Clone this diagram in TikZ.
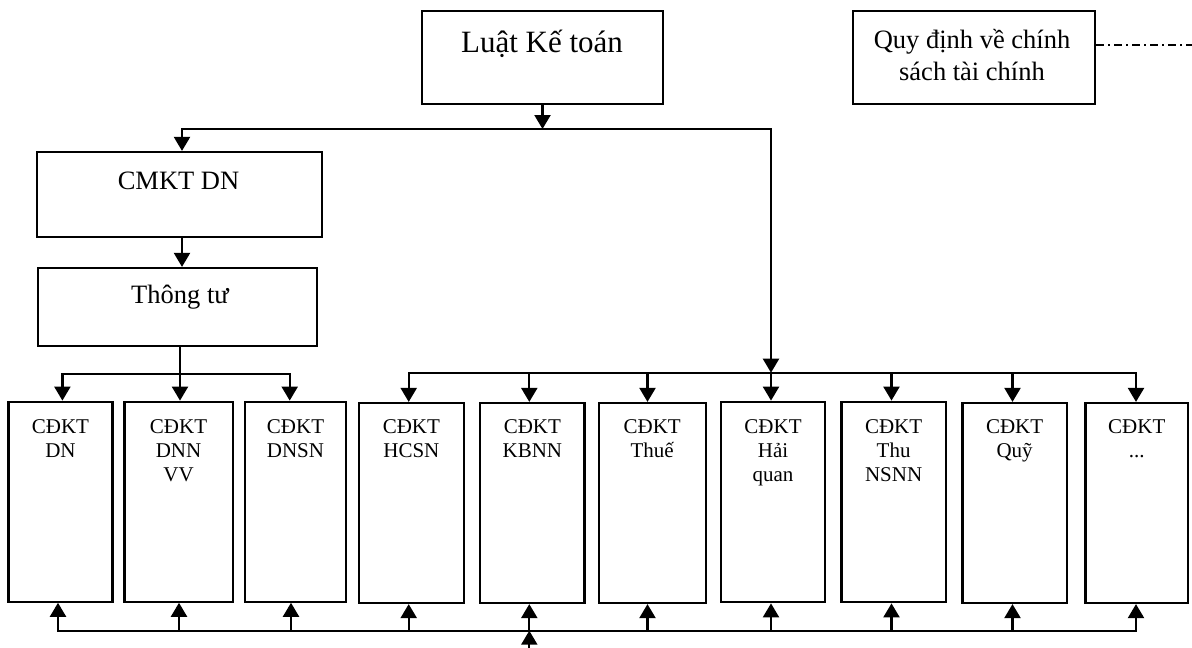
\documentclass[tikz,border=0pt]{standalone}
\usepackage{fontspec}
\setmainfont{Liberation Serif}
\usetikzlibrary{arrows.meta}
\begin{document}
\begin{tikzpicture}[x=1pt,y=-1pt,
  frame/.style={draw, line width=2.2pt, inner sep=0pt},
  link/.style={line width=2.2pt, line cap=rect},
  arr/.style={line width=2.2pt, -{Triangle[length=14pt,width=16pt]}},
  bigtext/.style={font=\fontsize{31}{36}\selectfont, inner sep=0pt, anchor=base},
  midtext/.style={font=\fontsize{26.5}{32}\selectfont, inner sep=0pt, anchor=base},
  smalltext/.style={font=\fontsize{21}{24}\selectfont, inner sep=0pt, anchor=base},
]
\useasboundingbox (0,0) rectangle (1192,648);

% top level boxes
\node[frame, minimum width=241, minimum height=93] (luat) at (542.5,57.5) {};
\node[bigtext] (luat-t) at (542,52) {Luật Kế toán};

\node[frame, minimum width=242, minimum height=93] (quy) at (974,57.5) {};
\node[midtext] (quy-t) at (972,48) {\begin{tabular}[t]{@{}c@{}}Quy định về chính\\sách tài chính\end{tabular}};
\coordinate (quyend) at (1192,45);
\draw[line width=1.4pt, dash pattern=on 8pt off 4pt on 2pt off 4pt] (quy.east |- quyend) -- (quyend);

% enterprise standards chain
\node[frame, minimum width=285, minimum height=85] (cmkt) at (179.5,194.5) {};
\node[midtext] (cmkt-t) at (178.5,189) {CMKT DN};
\node[frame, minimum width=279, minimum height=78] (tt) at (177.5,307) {};
\node[midtext] (tt-t) at (180,303) {Thông tư};

% main distribution line
\coordinate (mL) at (182,129);
\coordinate (mR) at (771,129);
\draw[arr] (luat.south) -- (luat.south |- mL);
\draw[link] (mL) -- (mR);
\draw[arr] (mL) -- (mL |- cmkt.north);
\draw[arr] (cmkt.south -| mL) -- (mL |- tt.north);

% accounting regime boxes
\foreach \n/\xl/\xr/\yt/\yb/\xa/\xb/\by/\txt in {
  1/8.4/112.5/401.7/601.7/62.4/58/374/{CĐKT\\DN},
  2/124.4/232.7/401.7/601.7/180/179/374/{CĐKT\\DNN\\VV},
  3/245/346/401.7/601.7/289.7/291/374/{CĐKT\\DNSN},
  4/358.6/464.2/403/603/408.7/408.7/372.7/{CĐKT\\HCSN},
  5/480.3/584.4/403/603/529.3/529.3/372.7/{CĐKT\\KBNN},
  6/598.7/705.7/403/603/647.5/647.5/372.7/{CĐKT\\Thuế},
  7/721.3/824.7/401.7/602.3/771/771/372.7/{CĐKT\\Hải\\quan},
  8/841.5/945.7/401.7/602.3/891.5/891.5/372.7/{CĐKT\\Thu\\NSNN},
  9/962.5/1066.7/403/603/1012.5/1012.5/372.7/{CĐKT\\Quỹ},
  10/1085.5/1188/403/603/1136/1136/372.7/{CĐKT\\...}}{
  \node[frame, minimum width={\xr-\xl}, minimum height={\yb-\yt}] (b\n) at ({(\xl+\xr)/2},{(\yt+\yb)/2}) {};
  \node[smalltext] (b\n-t) at ({(\xl+\xr)/2},433) {\begin{tabular}[t]{@{}c@{}}\txt\end{tabular}};
  \coordinate (t\n) at (\xa,\by);
  \coordinate (u\n) at (\xb,630.7);
  \draw[arr] (t\n) -- (t\n |- b\n.north);
  \draw[arr] (u\n) -- (u\n |- b\n.south);
}

% buses
\draw[link] (t1) -- (t3);
\draw[link] (tt.south -| t2) -- (t2);
\draw[link] (t4) -- (t10);
\draw[arr] (mR) -- (t7);
\draw[link] (u1) -- (u10);
\coordinate (src) at (529.3,648);
\draw[arr] (src) -- (u5);
\end{tikzpicture}
\end{document}
